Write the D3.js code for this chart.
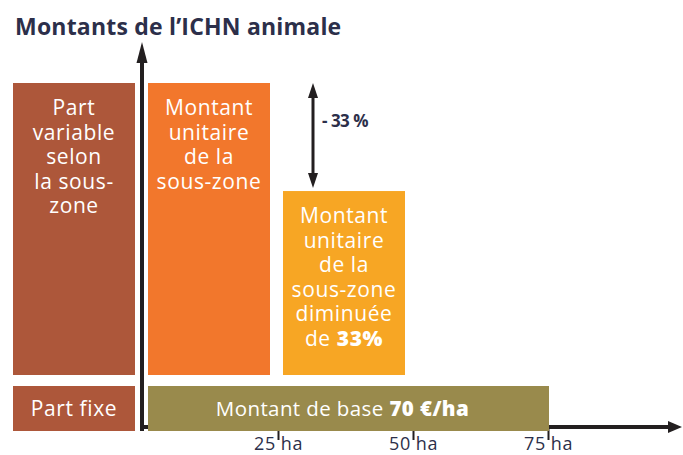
<!DOCTYPE html>
<html>
<head>
<meta charset="utf-8">
<script src="https://cdn.jsdelivr.net/npm/d3@7"></script>
<style>
  body { margin: 0; background: #fff; }
  text { font-family: "Open Sans", sans-serif; }
</style>
</head>
<body>
<div id="chart"></div>
<script>
// chart size
const width = 683;
const height = 455;

// data
const surfaceTicks = [25, 50, 75];              // ha
const tickLabels = ["25 ha", "50 ha", "75 ha"];
const variableBars = ["unitaire", "diminue"];
const variableFrom = [0, 25];                   // ha
const variableTo = [25, 50];                    // ha
const variableAmount = [100, 63];               // relative amount (schematic)
const variableLines = [
    ["Montant", "unitaire", "de la", "sous-zone"],
    ["Montant", "unitaire", "de la", "sous-zone", "diminuée", "de |33%"]
];
const baseFrom = 0;
const baseTo = 75;
const baseAmount = 70;                          // €/ha
const reductionLabel = "- 33 %";
const partLabels = [["Part", "variable", "selon", "la sous-", "zone"], ["Part fixe"]];

const colors = {
    part: "#ad573a",
    unitaire: "#f2772c",
    diminue: "#f7a624",
    base: "#998a4c",
    ink: "#2c2f4a",
    axis: "#231f20"
};

const svg = d3.select("#chart")
    .append("svg")
    .attr("width", width)
    .attr("height", height);

// scales
const x = d3.scaleLinear().domain([0, 75]).range([143, 548]);
const y = d3.scaleLinear().domain([0, 100]).range([375, 83]);     // variable part
const yBase = d3.scaleLinear().domain([0, 70]).range([431, 386]); // fixed part

// title
svg.append("text")
    .attr("x", 15)
    .attr("y", 35)
    .attr("fill", colors.ink)
    .style("font-size", "23px")
    .style("font-weight", 700)
    .style("letter-spacing", "0.2px")
    .text("Montants de l\u2019ICHN animale");

// x axis (sits under the base bar, only ticks show below it)
const xAxis = d3.axisBottom(x)
    .tickValues(surfaceTicks)
    .tickFormat((d, i) => tickLabels[i])
    .tickSize(13)
    .tickSizeOuter(0);

const gx = svg.append("g")
    .attr("transform", "translate(0,427)")
    .call(xAxis);
gx.select(".domain").remove();
gx.selectAll(".tick line").attr("stroke", colors.axis).attr("stroke-width", 2);
gx.selectAll(".tick text")
    .attr("y", 23)
    .attr("dy", 0)
    .attr("fill", colors.ink)
    .style("font-size", "18px")
    .style("letter-spacing", "0.5px")
    .style("font-family", "'Open Sans', sans-serif");

// horizontal axis line with arrow
svg.append("line")
    .attr("x1", x(0)).attr("x2", 670)
    .attr("y1", 427).attr("y2", 427)
    .attr("stroke", colors.axis)
    .attr("stroke-width", 4);
svg.append("path")
    .attr("d", "M668,421 L682,427 L668,433 Z")
    .attr("fill", colors.axis);

// vertical axis line with arrow
svg.append("line")
    .attr("x1", 142).attr("x2", 142)
    .attr("y1", 58).attr("y2", 431)
    .attr("stroke", colors.axis)
    .attr("stroke-width", 4);
svg.append("path")
    .attr("d", "M136.5,63 L142,42 L147.5,63 Z")
    .attr("fill", colors.axis);

// variable bars
const bars = svg.selectAll(".var-bar")
    .data(variableBars)
    .enter().append("g")
    .attr("class", "var-bar");

bars.append("rect")
    .attr("x", (d, i) => x(variableFrom[i]) + 5)
    .attr("y", (d, i) => y(variableAmount[i]))
    .attr("width", (d, i) => x(variableTo[i]) - x(variableFrom[i]) - 13)
    .attr("height", (d, i) => y(0) - y(variableAmount[i]))
    .attr("fill", d => colors[d]);

// white centred text, a "|" splits normal and bold parts
function boxText(g, lines, cx, top) {
    const t = g.append("text")
        .attr("text-anchor", "middle")
        .attr("fill", "#fff")
        .style("font-size", "21px")
        .style("font-weight", 500)
        .style("letter-spacing", "0.6px");
    lines.forEach((line, k) => {
        const parts = line.split("|");
        t.append("tspan")
            .attr("x", cx)
            .attr("y", top + 32 + k * 24.5)
            .text(parts[0]);
        if (parts[1]) {
            t.append("tspan").style("font-weight", 800).text(parts[1]);
        }
    });
}

bars.each(function (d, i) {
    const cx = (x(variableFrom[i]) + 5 + x(variableTo[i]) - 8) / 2;
    boxText(d3.select(this), variableLines[i], cx, y(variableAmount[i]));
});

// base bar
svg.append("rect")
    .attr("x", x(baseFrom) + 5)
    .attr("y", yBase(baseAmount))
    .attr("width", x(baseTo) - x(baseFrom) - 4)
    .attr("height", yBase(0) - yBase(baseAmount))
    .attr("fill", colors.base);

const baseText = svg.append("text")
    .attr("x", (x(baseFrom) + x(baseTo)) / 2 - 3)
    .attr("y", 416)
    .attr("text-anchor", "middle")
    .attr("fill", "#fff")
    .style("font-size", "20.5px")
    .style("font-weight", 500)
    .style("letter-spacing", "0.4px");
baseText.append("tspan").text("Montant de base ");
baseText.append("tspan").style("font-weight", 800).text(baseAmount + " \u20ac/ha");

// left "part" boxes
const partX0 = 13;
const partX1 = 135;
svg.append("rect")
    .attr("x", partX0).attr("y", y(100))
    .attr("width", partX1 - partX0).attr("height", y(0) - y(100))
    .attr("fill", colors.part);
boxText(svg, partLabels[0], (partX0 + partX1) / 2, y(100));

svg.append("rect")
    .attr("x", partX0).attr("y", yBase(baseAmount))
    .attr("width", partX1 - partX0).attr("height", yBase(0) - yBase(baseAmount))
    .attr("fill", colors.part);
svg.append("text")
    .attr("x", (partX0 + partX1) / 2)
    .attr("y", 416)
    .attr("text-anchor", "middle")
    .attr("fill", "#fff")
    .style("font-size", "21px")
    .style("font-weight", 500)
    .style("letter-spacing", "0.6px")
    .text(partLabels[1][0]);

// reduction double arrow
const ax = 313;
const aTop = y(variableAmount[0]);
const aBot = y(variableAmount[1]) - 3;
svg.append("line")
    .attr("x1", ax).attr("x2", ax)
    .attr("y1", aTop + 10).attr("y2", aBot - 10)
    .attr("stroke", colors.axis)
    .attr("stroke-width", 3);
svg.append("path")
    .attr("d", `M${ax - 5},${aTop + 15} L${ax},${aTop} L${ax + 5},${aTop + 15} Z`)
    .attr("fill", colors.axis);
svg.append("path")
    .attr("d", `M${ax - 5},${aBot - 15} L${ax},${aBot} L${ax + 5},${aBot - 15} Z`)
    .attr("fill", colors.axis);

svg.append("text")
    .attr("x", 322)
    .attr("y", 127)
    .attr("fill", colors.ink)
    .style("font-size", "17px")
    .style("font-weight", 700)
    .style("letter-spacing", "-0.5px")
    .text(reductionLabel);
</script>
</body>
</html>
